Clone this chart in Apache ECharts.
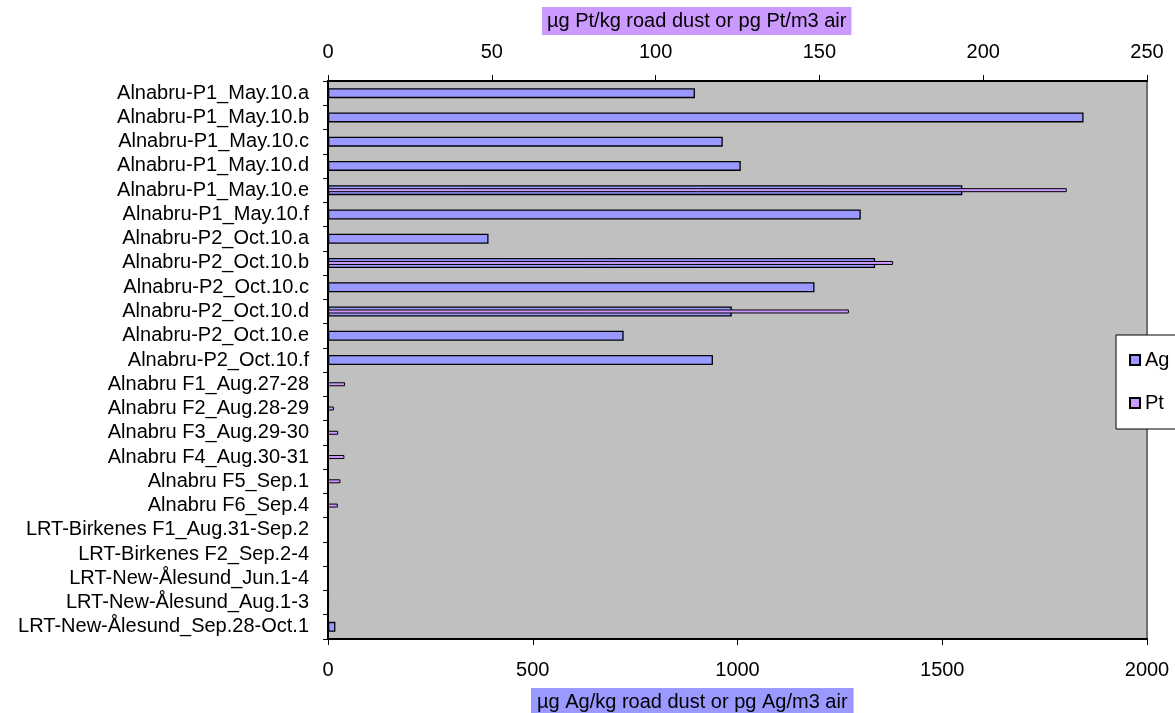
<!DOCTYPE html>
<html>
<head>
<meta charset="utf-8">
<script src="https://cdn.jsdelivr.net/npm/echarts@6/dist/echarts.min.js"></script>
<style>
  html, body { margin: 0; padding: 0; background: #fff; }
  #chart { width: 1175px; height: 713px; }
</style>
</head>
<body>
<div id="chart"></div>
<script>
// Sample names (top to bottom)
const samples = [
  'Alnabru-P1_May.10.a', 'Alnabru-P1_May.10.b', 'Alnabru-P1_May.10.c',
  'Alnabru-P1_May.10.d', 'Alnabru-P1_May.10.e', 'Alnabru-P1_May.10.f',
  'Alnabru-P2_Oct.10.a', 'Alnabru-P2_Oct.10.b', 'Alnabru-P2_Oct.10.c',
  'Alnabru-P2_Oct.10.d', 'Alnabru-P2_Oct.10.e', 'Alnabru-P2_Oct.10.f',
  'Alnabru F1_Aug.27-28', 'Alnabru F2_Aug.28-29', 'Alnabru F3_Aug.29-30',
  'Alnabru F4_Aug.30-31', 'Alnabru F5_Sep.1', 'Alnabru F6_Sep.4',
  'LRT-Birkenes F1_Aug.31-Sep.2', 'LRT-Birkenes F2_Sep.2-4',
  'LRT-New-Ålesund_Jun.1-4', 'LRT-New-Ålesund_Aug.1-3',
  'LRT-New-Ålesund_Sep.28-Oct.1'
];

// Ag: µg Ag/kg road dust or pg Ag/m3 air (bottom axis)
const agValues = [
  896, 1845, 964, 1008, 1549, 1301,
  392, 1336, 1188, 986, 722, 940,
  '-', '-', '-', '-', '-', '-',
  '-', '-', '-', 2, 18
];

// Pt: µg Pt/kg road dust or pg Pt/m3 air (top axis)
const ptValues = [
  '-', '-', '-', '-', 225.5, '-',
  '-', 172.5, '-', 159, '-', '-',
  5.2, 1.8, 3.1, 5.0, 3.8, 3.0,
  '-', '-', '-', '-', '-'
];

const agTicks = { min: 0, max: 2000, interval: 500 };
const ptTicks = { min: 0, max: 250, interval: 50 };

const FONT = '"Liberation Sans", Arial, sans-serif';
const plain = v => String(v);

const chart = echarts.init(document.getElementById('chart'), null, { renderer: 'canvas' });

chart.setOption({
  animation: false,
  backgroundColor: '#ffffff',
  textStyle: { fontFamily: FONT, color: '#000' },
  title: [
    {
      text: 'µg Pt/kg road dust or pg Pt/m3 air',
      left: 542, top: 7,
      backgroundColor: '#CC99FF',
      padding: [4, 5, 4, 5],
      textStyle: { fontFamily: FONT, fontSize: 20, fontWeight: 'normal', color: '#000' }
    },
    {
      text: 'µg Ag/kg road dust or pg Ag/m3 air',
      left: 531, top: 688,
      backgroundColor: '#9999FF',
      padding: [4, 6, 6, 6],
      textStyle: { fontFamily: FONT, fontSize: 20, fontWeight: 'normal', color: '#000' }
    }
  ],
  legend: {
    orient: 'vertical',
    left: 1116, top: 335,
    backgroundColor: '#ffffff',
    borderColor: '#000',
    borderWidth: 1,
    padding: [15, 60, 16, 13],
    itemGap: 23,
    itemWidth: 10,
    itemHeight: 10,
    icon: 'rect',
    textStyle: { fontFamily: FONT, fontSize: 20, color: '#000', padding: [0, 0, 0, 0] },
    data: ['Ag', 'Pt']
  },
  grid: {
    left: 328, right: 28, top: 81, bottom: 74,
    show: true,
    backgroundColor: '#C0C0C0',
    borderColor: '#707070',
    borderWidth: 2
  },
  xAxis: [
    {
      type: 'value',
      position: 'bottom',
      min: agTicks.min, max: agTicks.max, interval: agTicks.interval,
      axisLine: { show: true, lineStyle: { color: '#000', width: 2 } },
      axisTick: { show: true, length: 6, lineStyle: { color: '#000', width: 1 } },
      axisLabel: { fontFamily: FONT, fontSize: 20, color: '#000', margin: 21, formatter: plain },
      splitLine: { show: false }
    },
    {
      type: 'value',
      position: 'top',
      min: ptTicks.min, max: ptTicks.max, interval: ptTicks.interval,
      axisLine: { show: true, lineStyle: { color: '#000', width: 2 } },
      axisTick: { show: true, length: 6, lineStyle: { color: '#000', width: 1 } },
      axisLabel: { fontFamily: FONT, fontSize: 20, color: '#000', margin: 19, formatter: plain },
      splitLine: { show: false }
    }
  ],
  yAxis: [
    {
      type: 'category',
      data: samples,
      inverse: true,
      axisLine: { show: true, lineStyle: { color: '#000', width: 2 } },
      axisTick: { show: true, length: 5, lineStyle: { color: '#000', width: 1 } },
      axisLabel: { fontFamily: FONT, fontSize: 20, color: '#000', margin: 19, interval: 0 },
      splitLine: { show: false }
    },
    {
      type: 'category',
      data: samples,
      inverse: true,
      show: false
    }
  ],
  series: [
    {
      name: 'Ag',
      type: 'bar',
      xAxisIndex: 0,
      yAxisIndex: 0,
      data: agValues,
      barWidth: 10,
      itemStyle: { color: '#9999FF', borderColor: '#000', borderWidth: 1.3 }
    },
    {
      name: 'Pt',
      type: 'bar',
      xAxisIndex: 1,
      yAxisIndex: 1,
      data: ptValues,
      barWidth: 4,
      itemStyle: { color: '#CC99FF', borderColor: '#000', borderWidth: 1 }
    }
  ]
});
</script>
</body>
</html>
